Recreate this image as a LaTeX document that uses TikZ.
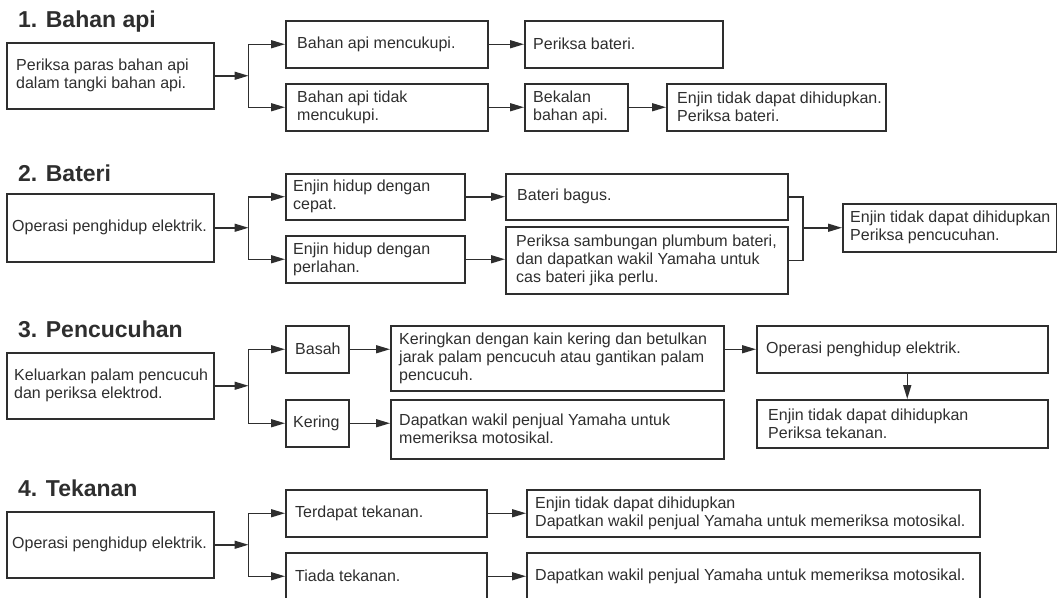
\documentclass[tikz,border=0pt]{standalone}
\usepackage{fontspec}
\setmainfont{Liberation Sans}
\usetikzlibrary{arrows.meta,calc}
\definecolor{ink}{HTML}{2E2E2E}
\newcommand{\mybox}[7]{%
  \node[bx, minimum width=#4pt, minimum height=#5pt] (#1) at (#2,#3) {};
  \node[tx] (#1t) at ([xshift=#6pt]#1.west) {#7};}
\begin{document}
\begin{tikzpicture}[x=1pt,y=-1pt,
  bx/.style={draw=ink, line width=1.5pt, anchor=north west, inner sep=0pt},
  tx/.style={anchor=west, inner sep=0pt, align=left, text=ink, font=\fontsize{16}{18}\selectfont},
  ttl/.style={anchor=base west, inner sep=0pt, text=ink, font=\fontsize{23}{26}\selectfont\bfseries},
  ln/.style={draw=ink, line width=1.5pt},
  arr/.style={ln, -{Triangle[length=14pt,width=8pt]}}]
\useasboundingbox (0,0) rectangle (1057,597);

% ---------- 1. Bahan api ----------
\node[ttl] (t1) at (18,27.5) {1. Bahan api};
\mybox{A1}{6}{42}{207}{66}{10}{Periksa paras bahan api\\dalam tangki bahan api.}
\mybox{B1a}{285}{20}{202}{47}{12}{Bahan api mencukupi.}
\mybox{B1b}{285}{83}{202}{47}{12}{Bahan api tidak\\mencukupi.}
\mybox{C1a}{524}{20}{198}{47}{9}{Periksa bateri.}
\mybox{C1b}{524}{83}{103}{47}{9}{Bekalan\\bahan api.}
\mybox{D1b}{666}{83}{219}{47}{11}{Enjin tidak dapat dihidupkan.\\Periksa bateri.}
\coordinate (j1) at ($(A1.east)+(34,0)$);
\draw[arr] (A1.east) -- (j1);
\draw[arr] (j1) |- (B1a.west);
\draw[arr] (j1) |- (B1b.west);
\draw[arr] (B1a.east) -- (B1a.east -| C1a.west);
\draw[arr] (B1b.east) -- (B1b.east -| C1b.west);
\draw[arr] (C1b.east) -- (C1b.east -| D1b.west);

% ---------- 2. Bateri ----------
\node[ttl] (t2) at (18,181) {2. Bateri};
\mybox{A2}{6}{193}{207}{68}{6}{Operasi penghidup elektrik.}
\mybox{B2a}{285}{173}{179}{46}{8}{Enjin hidup dengan\\cepat.}
\mybox{B2b}{285}{235}{179}{47}{8}{Enjin hidup dengan\\perlahan.}
\mybox{C2a}{505}{173}{282}{46}{12}{Bateri bagus.}
\mybox{C2b}{505}{226}{282}{67}{11}{Periksa sambungan plumbum bateri,\\dan dapatkan wakil Yamaha untuk\\cas bateri jika perlu.}
\mybox{D2}{842}{203}{214}{48}{8}{Enjin tidak dapat dihidupkan\\Periksa pencucuhan.}
\coordinate (j2) at ($(A2.east)+(34,0)$);
\draw[arr] (A2.east) -- (j2);
\draw[arr] (j2) |- (B2a.west);
\draw[arr] (j2) |- (B2b.west);
\draw[arr] (B2a.east) -- (B2a.east -| C2a.west);
\draw[arr] (B2b.east) -- (B2b.east -| C2b.west);
\coordinate (m2) at ($(D2.west)+(-39,0)$);
\draw[ln] (C2a.east) -| (m2) |- (C2b.east);
\draw[arr] (m2) -- (D2.west);

% ---------- 3. Pencucuhan ----------
\node[ttl] (t3) at (18,337.5) {3. Pencucuhan};
\mybox{A3}{6}{352}{207}{66}{8}{Keluarkan palam pencucuh\\dan periksa elektrod.}
\mybox{B3a}{285}{325}{63}{47}{10}{Basah}
\mybox{B3b}{285}{399}{63}{47}{8}{Kering}
\mybox{C3a}{390}{325}{333}{65}{9}{Keringkan dengan kain kering dan betulkan\\jarak palam pencucuh atau gantikan palam\\pencucuh.}
\mybox{C3b}{390}{399}{333}{59}{9}{Dapatkan wakil penjual Yamaha untuk\\memeriksa motosikal.}
\mybox{D3a}{756}{325}{291}{47}{10}{Operasi penghidup elektrik.}
\mybox{D3b}{756}{399}{291}{48}{12}{Enjin tidak dapat dihidupkan\\Periksa tekanan.}
\coordinate (j3) at ($(A3.east)+(34,0)$);
\draw[arr] (A3.east) -- (j3);
\draw[arr] (j3) |- (B3a.west);
\draw[arr] (j3) |- (B3b.west);
\draw[arr] (B3a.east) -- (B3a.east -| C3a.west);
\draw[arr] (B3b.east) -- (B3b.east -| C3b.west);
\draw[arr] (D3a.west -| C3a.east) -- (D3a.west);
\draw[arr] ($(D3a.south)+(5,0)$) -- ($(D3b.north)+(5,0)$);

% ---------- 4. Tekanan ----------
\node[ttl] (t4) at (18,496) {4. Tekanan};
\mybox{A4}{6}{511}{207}{66}{6}{Operasi penghidup elektrik.}
\mybox{B4a}{285}{489}{201}{47}{10}{Terdapat tekanan.}
\mybox{B4b}{285}{552}{201}{47}{10}{Tiada tekanan.}
\mybox{C4a}{526}{489}{453}{47}{9}{Enjin tidak dapat dihidupkan\\Dapatkan wakil penjual Yamaha untuk memeriksa motosikal.}
\mybox{C4b}{526}{552}{453}{47}{9}{Dapatkan wakil penjual Yamaha untuk memeriksa motosikal.}
\coordinate (j4) at ($(A4.east)+(34,0)$);
\draw[arr] (A4.east) -- (j4);
\draw[arr] (j4) |- (B4a.west);
\draw[arr] (j4) |- (B4b.west);
\draw[arr] (B4a.east) -- (B4a.east -| C4a.west);
\draw[arr] (B4b.east) -- (B4b.east -| C4b.west);
\end{tikzpicture}
\end{document}
